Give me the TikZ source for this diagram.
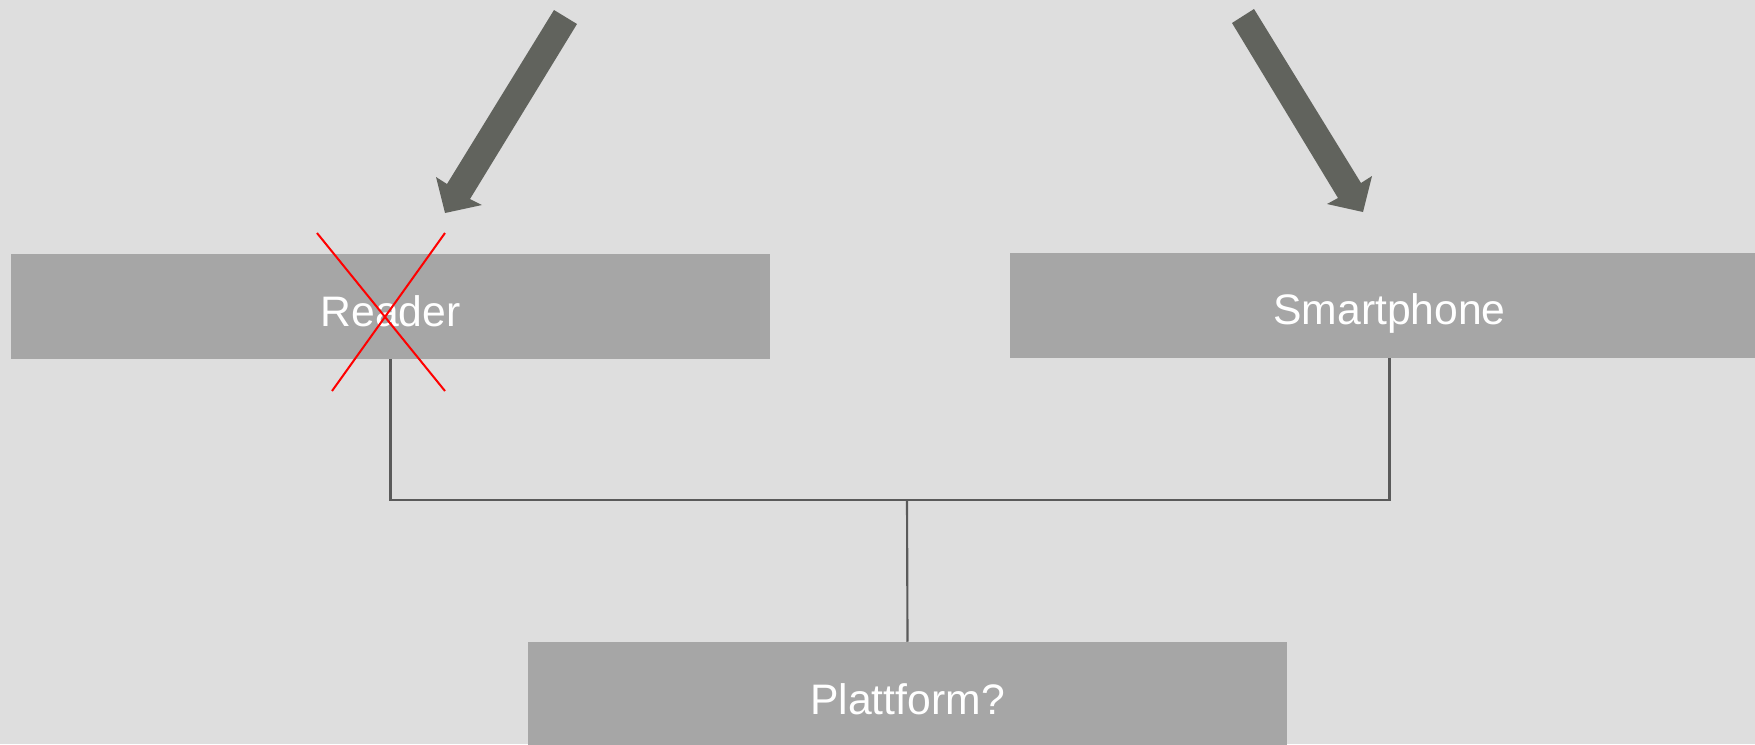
\documentclass[tikz,border=0pt]{standalone}
\usepackage{fontspec}
\setmainfont{Liberation Sans}
\definecolor{bg}{HTML}{DEDEDE}
\definecolor{boxc}{HTML}{A6A6A6}
\definecolor{arrc}{HTML}{61635D}
\definecolor{linec}{HTML}{5A5A5A}
\begin{document}
\begin{tikzpicture}[x=0.75pt,y=-0.75pt,
  box/.style={fill=boxc,draw=none,minimum width=569.25pt,minimum height=78.75pt,inner sep=0pt,text=white,font=\fontsize{32}{36}\selectfont},
  conn/.style={draw=linec,line width=1.6pt},
  bigarrow/.style={fill=arrc,draw=none},
  cross/.style={draw=red,line width=1.5pt}]
\fill[bg] (0,0) rectangle (1755,744);
\useasboundingbox (0,0) rectangle (1755,744);
\node[box] (reader) at (390.5,306.5) {};
\node[box] (smart) at (1389.5,305) {};
\node[box] (plat) at (907.5,694.5) {};
\node[text=white,font=\fontsize{32}{36}\selectfont,inner sep=0pt] (readert) at (390.5,311) {Reader};
\node[text=white,font=\fontsize{32}{36}\selectfont,inner sep=0pt] (smartt) at (1389.5,313) {Smartphone};
\node[text=white,font=\fontsize{32}{36}\selectfont,inner sep=0pt] (platt) at (907.5,699) {Plattform?};
\coordinate (j) at (907,500);
\draw[conn] (reader.south) |- (j) -| (smart.south);
\draw[conn] (plat.north) -- (j);
% big arrows
\fill[bigarrow] (554,10) -- (577,24) -- (470,199) -- (482,205) -- (445,213) -- (436,177) -- (447,184) -- cycle;
\fill[bigarrow] (1254,9) -- (1232,23) -- (1338,198) -- (1327,204) -- (1363,212) -- (1372,176) -- (1361,183) -- cycle;
% red cross
\draw[cross] (317,233) -- (445,391);
\draw[cross] (445,233) -- (332,391);
\end{tikzpicture}
\end{document}
